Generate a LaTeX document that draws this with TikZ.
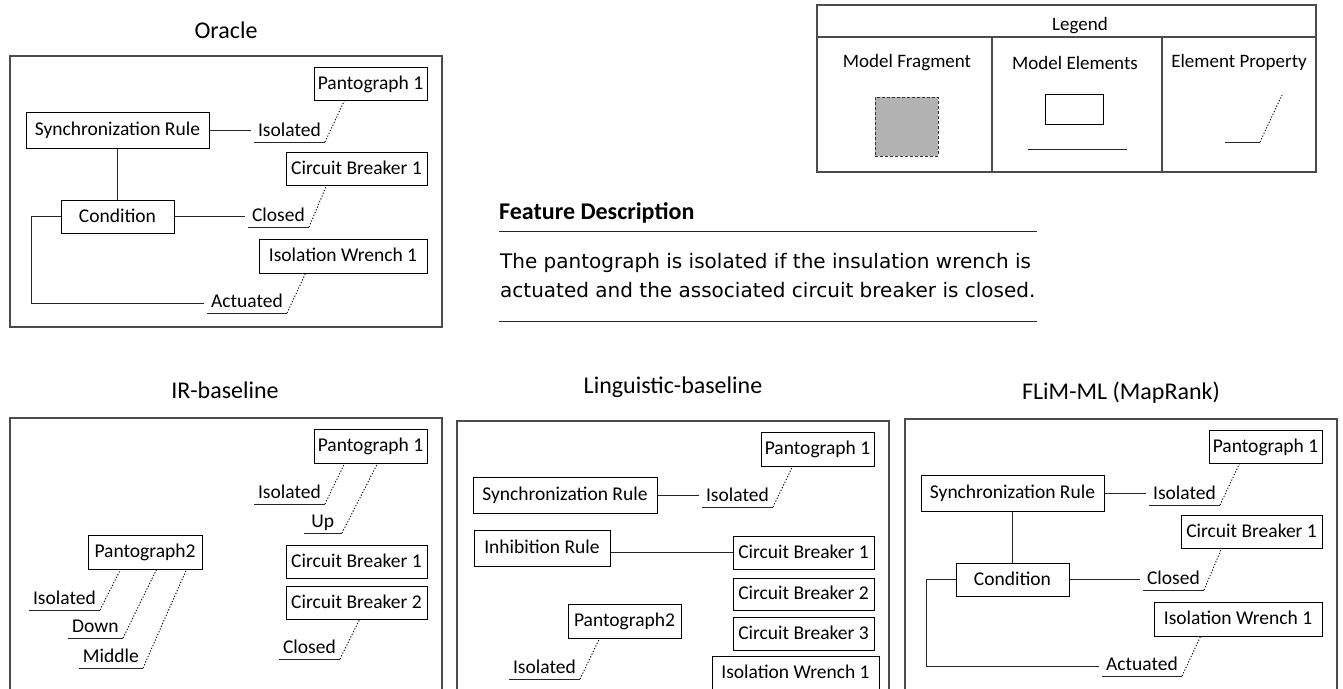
\documentclass[tikz,border=0pt]{standalone}
\usepackage{fontspec}
\setmainfont{Carlito}
\newfontfamily\descfont{DejaVu Sans}
\usetikzlibrary{positioning}

\newcommand\elemfont{\fontsize{19.5}{23}\selectfont}
\newcommand\legfont{\fontsize{19}{23}\selectfont}
\newcommand\titlefont{\fontsize{24}{29}\selectfont}

\begin{document}
\begin{tikzpicture}[x=1pt, y=-1pt,
  elem/.style={draw, line width=1pt, font=\elemfont, inner sep=0pt, text height=14pt, text depth=2.5pt},
  prop/.style={font=\elemfont, inner xsep=4pt, inner ysep=1pt, text height=13pt, text depth=4pt, anchor=south east},
  panel/.style={draw=black!70, line width=1.1pt},
  link/.style={line width=1pt, black!85},
  dots/.style={dash pattern=on 1.2pt off 1.8pt, line width=0.9pt, black},
  ttl/.style={font=\titlefont}]
\useasboundingbox (0,0) rectangle (1343,688);

% oracle and FLiM-ML fragments (same layout)
\foreach \dx/\dy/\p/\t in {0/0/o/Oracle, 895/363/f/{FLiM-ML (MapRank)}} {
  \begin{scope}[shift={(\dx,\dy)}]
    \node[ttl] (\p-title) at (226,30) {\t};
    \draw[panel] (10,56) rectangle (442,327);
    \node[elem, minimum width=113pt, minimum height=33pt] (\p-pant) at (370.5,83.5) {Pantograph 1};
    \node[elem, minimum width=183pt, minimum height=36pt] (\p-sync) at (117.5,130) {Synchronization Rule};
    \node[elem, minimum width=141pt, minimum height=33pt] (\p-cb) at (356.5,168.5) {Circuit Breaker 1};
    \node[elem, minimum width=113pt, minimum height=33pt] (\p-cond) at (117.5,216.5) {Condition};
    \node[elem, minimum width=168pt, minimum height=34pt] (\p-wr) at (343,256) {Isolation Wrench 1};
    \node[prop] (\p-iso) at (325,142) {Isolated};
    \node[prop] (\p-cl) at (309,227) {Closed};
    \node[prop] (\p-act) at (287,313) {Actuated};
    \draw[link] (\p-sync) -- (\p-cond);
    \draw[link, shorten >=3pt] (\p-sync.east) -- (\p-sync.east -| \p-iso.west);
    \draw[link, shorten >=3pt] (\p-cond.east) -- (\p-cond.east -| \p-cl.west);
    \draw[link, shorten >=3pt] (\p-cond.west) -- ++(-29,0) |- (\p-act.west);
    \foreach \q/\e/\s in {iso/pant/31, cl/cb/41, act/wr/47}
      \draw[link] (\p-\q.south west) -- (\p-\q.south east) edge[dots] ([xshift=\s]\p-\e.south west);
  \end{scope}
}

% IR-baseline
\node[ttl] (i-title) at (225,390) {IR-baseline};
\draw[panel] (10,418) rectangle (442,700);
\node[elem, minimum width=113pt, minimum height=34pt] (i-pant1) at (370.5,446) {Pantograph 1};
\node[elem, minimum width=141pt, minimum height=33pt] (i-cb1) at (356.5,561.5) {Circuit Breaker 1};
\node[elem, minimum width=141pt, minimum height=33pt, below=7pt of i-cb1] (i-cb2) {Circuit Breaker 2};
\node[elem, minimum width=114pt, minimum height=34pt] (i-pant2) at (145,552) {Pantograph2};
\node[prop] (i-iso1) at (325,504) {Isolated};
\node[prop, minimum width=38pt] (i-up) at (342,533) {Up};
\node[prop] (i-cl) at (340,659) {Closed};
\node[prop] (i-iso2) at (100,610) {Isolated};
\node[prop, minimum width=55pt] (i-down) at (123,638) {Down};
\node[prop] (i-mid) at (143,668) {Middle};
\foreach \q/\e/\s in {iso1/pant1/31, up/pant1/64, cl/cb2/74, iso2/pant2/33, down/pant2/69, mid/pant2/99}
  \draw[link] (i-\q.south west) -- (i-\q.south east) edge[dots] ([xshift=\s]i-\e.south west);

% Linguistic-baseline
\node[ttl] (l-title) at (673,387) {Linguistic-baseline};
\draw[panel] (457,421) rectangle (889,700);
\node[elem, minimum width=113pt, minimum height=34pt] (l-pant1) at (817.5,449) {Pantograph 1};
\node[elem, minimum width=184pt, minimum height=36pt] (l-sync) at (565,495) {Synchronization Rule};
\node[elem, minimum width=136pt, minimum height=36pt] (l-inh) at (542,548) {Inhibition Rule};
\node[elem, minimum width=141pt, minimum height=33pt] (l-cb1) at (803.5,552.5) {Circuit Breaker 1};
\node[elem, minimum width=141pt, minimum height=32pt, below=8pt of l-cb1] (l-cb2) {Circuit Breaker 2};
\node[elem, minimum width=141pt, minimum height=33pt, below=6pt of l-cb2] (l-cb3) {Circuit Breaker 3};
\node[elem, minimum width=167pt, minimum height=34pt, below=5pt of l-cb3, xshift=-8pt] (l-wr) {Isolation Wrench 1};
\node[elem, minimum width=113pt, minimum height=34pt] (l-pant2) at (624.5,621) {Pantograph2};
\node[prop] (l-iso1) at (773,507) {Isolated};
\node[prop] (l-iso2) at (580,679) {Isolated};
\draw[link, shorten >=3pt] (l-sync.east) -- (l-sync.east -| l-iso1.west);
\draw[link] (l-inh.east |- l-cb1) -- (l-cb1.west);
\foreach \q/\e/\s in {iso1/pant1/32, iso2/pant2/32}
  \draw[link] (l-\q.south west) -- (l-\q.south east) edge[dots] ([xshift=\s]l-\e.south west);

% legend
\draw[panel] (817,5) rectangle (1316,172);
\draw[panel] (817,37) -- (1316,37) (992,37) -- (992,172) (1162,37) -- (1162,172);
\node[font=\legfont, text height=13pt, text depth=4pt] (leg) at (1080,25.5) {Legend};
\node[font=\legfont, text height=13pt, text depth=4pt] (leg-frag) at (907,63) {Model Fragment};
\node[font=\legfont, text height=13pt, text depth=4pt] (leg-elem) at (1075,65) {Model Elements};
\node[font=\legfont, text height=13pt, text depth=4pt] (leg-prop) at (1239,63) {Element Property};
\node[draw=black!80, dash pattern=on 3pt off 2pt, fill=black!30, minimum width=63pt, minimum height=59pt] (leg-fragbox) at (906.5,126.5) {};
\node[draw, line width=1pt, minimum width=58pt, minimum height=30pt] (leg-elembox) at (1074,109) {};
\draw[link] (1028,149) -- (1127,149);
\draw[link] (1225,142) -- (1260,142);
\draw[dots] (1260,142) -- (1282,95);

% feature description
\node[font=\titlefont\bfseries, anchor=west, inner sep=0pt] (fd-head) at (499,213) {Feature Description};
\draw[link] (499,231) -- (1037,231);
\node[font=\descfont\fontsize{20}{29}\selectfont, anchor=base west, inner sep=0pt] (fd-l1) at (500,268) {The pantograph is isolated if the insulation wrench is};
\node[font=\descfont\fontsize{20}{29}\selectfont, anchor=base west, inner sep=0pt] (fd-l2) at (500,297) {actuated and the associated circuit breaker is closed.};
\draw[link] (499,321) -- (1037,321);
\end{tikzpicture}
\end{document}
